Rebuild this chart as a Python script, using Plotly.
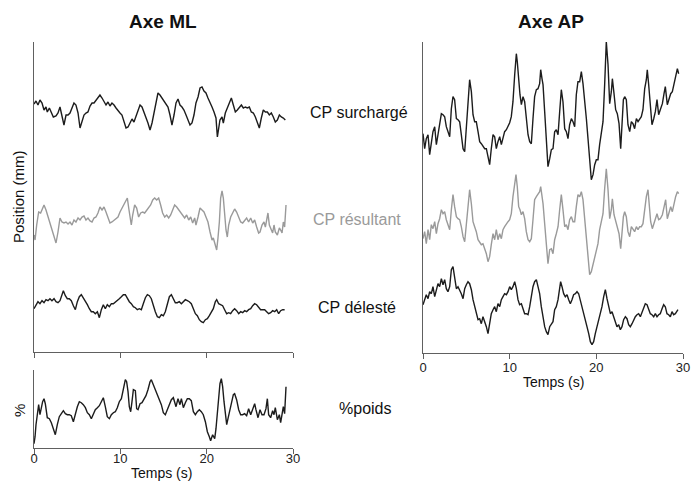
import plotly.graph_objects as go

# ---------------- data (time in s, signal in 0.1 mm / 0.1 % units) ----------------
ML_SURCH_T = [0.00,0.23,0.46,0.69,0.93,1.16,1.39,1.54,1.78,2.01,
    2.24,2.55,2.78,3.01,3.24,3.47,3.71,3.94,4.17,4.40,
    4.63,4.86,5.10,5.33,5.56,5.79,6.02,6.25,6.49,6.72,
    6.95,7.18,7.41,7.64,7.88,8.11,8.34,8.57,8.80,9.03,
    9.27,9.50,9.73,9.96,10.19,10.42,10.66,10.89,11.12,11.35,
    11.58,11.81,12.05,12.28,12.51,12.74,12.97,13.20,13.44,13.67,
    13.90,14.13,14.36,14.59,14.83,15.06,15.29,15.52,15.75,15.98,
    16.22,16.45,16.68,16.91,17.14,17.37,17.61,17.84,18.07,18.30,
    18.53,18.76,19.00,19.23,19.46,19.69,19.92,20.15,20.39,20.62,
    20.85,21.08,21.24,21.39,21.54,21.78,21.93,22.16,22.39,22.63,
    22.86,23.09,23.32,23.55,23.78,24.02,24.25,24.48,24.71,24.94,
    25.17,25.41,25.64,25.87,26.10,26.33,26.56,26.80,27.03,27.26,
    27.49,27.72,27.95,28.19,28.42,28.65,28.88,29.11]
ML_SURCH = [6,9,5,10,7,0,3,-2,2,-3,
    -7,-6,-3,3,-7,-15,-5,-5,-3,2,
    7,5,-3,-18,-10,-5,-3,-2,4,7,
    7,10,12,15,12,9,5,8,4,7,
    5,2,-1,-3,-5,-12,-18,-17,-12,-9,
    -12,-7,0,5,3,-2,-7,-13,-20,-13,
    -3,7,17,15,12,10,7,3,-5,-15,
    -5,7,11,5,3,0,-5,-10,-15,-13,
    -5,7,13,22,23,19,17,12,8,3,
    -2,-8,-27,-20,-10,-7,-13,-3,2,7,
    12,5,-2,0,3,5,2,3,2,3,
    -2,-3,-7,-13,-18,-8,0,-2,-2,-5,
    -3,-7,-12,-10,-5,-7,-8,-10]

ML_RES_T = [0.00,0.12,0.31,0.54,0.77,1.00,1.16,1.39,1.62,1.85,
    2.08,2.32,2.55,2.78,3.01,3.24,3.47,3.71,3.94,4.17,
    4.40,4.63,4.86,5.10,5.33,5.56,5.79,6.02,6.25,6.49,
    6.72,6.95,7.18,7.41,7.64,7.88,8.11,8.34,8.57,8.80,
    9.03,9.27,9.50,9.73,9.96,10.19,10.42,10.66,10.81,10.97,
    11.12,11.27,11.43,11.66,11.89,12.12,12.36,12.59,12.82,13.05,
    13.28,13.51,13.75,13.98,14.21,14.44,14.67,14.90,15.14,15.37,
    15.60,15.83,16.06,16.29,16.53,16.76,16.99,17.22,17.45,17.68,
    17.92,18.15,18.38,18.61,18.76,19.00,19.23,19.46,19.69,19.92,
    20.15,20.39,20.62,20.77,20.93,21.16,21.31,21.47,21.62,21.78,
    21.93,22.08,22.24,22.39,22.55,22.78,23.01,23.24,23.47,23.71,
    23.94,24.17,24.40,24.63,24.86,25.10,25.33,25.56,25.79,26.02,
    26.18,26.41,26.64,26.80,26.95,27.10,27.26,27.41,27.64,27.80,
    27.95,28.19,28.42,28.57,28.73,28.88,29.03,29.19]
ML_RES = [-15,-20,-5,8,7,12,15,10,3,-2,
    -10,-18,-23,-12,2,-2,-3,-2,-4,-2,
    -5,0,-2,2,0,3,4,0,2,-1,
    -2,2,3,7,13,10,13,8,2,-3,
    -2,0,2,3,8,12,15,20,22,12,
    2,-5,5,15,12,3,7,8,7,10,
    12,15,20,22,20,22,15,7,3,5,
    2,5,10,15,13,10,8,5,2,5,
    0,3,-3,2,-5,3,12,10,8,3,
    -2,-12,-20,-18,-23,-30,-18,-2,22,29,
    22,5,-10,-17,-5,3,8,11,8,2,
    -2,-3,0,2,-2,2,-3,0,-7,-13,
    -12,-5,-2,-7,0,7,-5,-8,-13,-5,
    -12,-15,-8,-10,-13,-2,-7,15]

ML_DEL_T = [0.00,0.23,0.46,0.69,0.93,1.16,1.39,1.62,1.85,2.08,
    2.32,2.55,2.78,3.01,3.24,3.40,3.63,3.86,4.09,4.32,
    4.56,4.79,5.02,5.25,5.48,5.71,5.95,6.18,6.41,6.64,
    6.87,7.10,7.34,7.57,7.80,8.03,8.26,8.49,8.73,8.96,
    9.19,9.42,9.65,9.88,10.12,10.35,10.58,10.81,11.04,11.27,
    11.51,11.74,11.97,12.20,12.43,12.66,12.90,13.13,13.36,13.59,
    13.82,14.05,14.29,14.52,14.75,14.98,15.21,15.44,15.68,15.91,
    16.14,16.37,16.60,16.83,17.07,17.30,17.53,17.76,17.99,18.22,
    18.46,18.69,18.92,19.15,19.38,19.61,19.85,20.08,20.31,20.54,
    20.77,21.00,21.16,21.39,21.62,21.85,22.08,22.32,22.55,22.78,
    23.01,23.24,23.47,23.71,23.94,24.17,24.40,24.63,24.86,25.10,
    25.33,25.56,25.79,26.02,26.25,26.49,26.72,26.95,27.18,27.41,
    27.64,27.88,28.11,28.34,28.57,28.80,29.03]
ML_DEL = [-2,2,5,3,6,4,7,6,8,6,
    8,5,4,6,12,16,11,8,8,6,
    1,-3,5,10,12,9,6,2,-2,-5,
    -5,-7,-5,-11,-3,2,-2,2,0,3,
    3,5,7,8,10,12,12,8,5,3,
    0,-1,-3,-2,-3,3,9,12,11,8,
    0,-5,-10,-11,-8,-9,-5,3,10,12,
    8,4,4,5,3,5,7,6,5,3,
    -2,-7,-9,-13,-15,-16,-13,-12,-9,-5,
    -2,5,7,3,2,1,-3,-7,-6,-7,
    -4,-2,-4,-7,-5,-6,-4,-5,-3,-2,
    1,3,2,-1,-3,-3,-3,-5,-7,-6,
    -4,-5,-3,-7,-4,-3,-3]

POIDS_T = [0.00,0.12,0.23,0.39,0.54,0.69,0.85,1.00,1.16,1.31,
    1.54,1.78,2.01,2.24,2.47,2.70,2.93,3.17,3.40,3.63,
    3.86,4.09,4.32,4.56,4.79,5.02,5.25,5.48,5.71,5.95,
    6.18,6.41,6.64,6.87,7.10,7.34,7.57,7.80,8.03,8.26,
    8.49,8.73,8.96,9.19,9.42,9.65,9.88,10.12,10.35,10.58,
    10.73,10.89,11.04,11.20,11.35,11.51,11.74,11.89,12.05,12.28,
    12.51,12.74,12.97,13.20,13.44,13.59,13.82,14.05,14.29,14.52,
    14.75,14.98,15.21,15.44,15.68,15.91,16.14,16.29,16.45,16.68,
    16.91,17.07,17.30,17.53,17.76,17.99,18.22,18.46,18.69,18.92,
    19.15,19.38,19.61,19.85,20.08,20.31,20.46,20.69,20.93,21.08,
    21.24,21.39,21.54,21.70,21.85,22.01,22.16,22.32,22.47,22.63,
    22.86,23.09,23.24,23.47,23.71,23.94,24.17,24.40,24.63,24.86,
    25.10,25.33,25.56,25.71,25.95,26.18,26.41,26.64,26.87,27.03,
    27.18,27.41,27.64,27.80,27.95,28.19,28.42,28.57,28.73,28.88,
    29.03,29.19]
POIDS = [-32,-25,-13,-3,7,-3,5,10,13,8,
    -6,-7,-11,-17,-23,-13,-5,-2,1,-2,
    -3,-3,-4,-10,-2,5,10,9,7,4,
    -1,-3,-7,-2,2,4,6,10,14,5,
    -5,-7,-3,-1,0,4,10,13,23,32,
    30,20,5,0,10,22,21,3,2,8,
    9,13,16,22,30,32,27,22,18,13,
    7,-1,-3,2,7,12,14,9,5,13,
    7,13,4,9,13,13,11,0,-3,0,
    2,0,-3,-10,-20,-25,-29,-23,-27,-17,
    -3,13,28,33,25,10,-3,-13,-7,0,
    10,17,18,12,2,-3,-3,-2,-4,3,
    -3,2,8,2,-6,2,-3,-3,3,13,
    -3,-6,1,-3,4,-8,-3,-11,0,5,
    -2,25]

AP_SURCH_T = [0.00,0.19,0.38,0.58,0.77,0.96,1.15,1.35,1.54,1.73,
    1.92,2.12,2.31,2.50,2.69,2.88,3.08,3.27,3.46,3.65,
    3.85,4.04,4.23,4.42,4.62,4.81,5.00,5.19,5.38,5.58,
    5.77,5.96,6.15,6.35,6.54,6.73,6.92,7.12,7.31,7.50,
    7.69,7.88,8.08,8.27,8.46,8.65,8.85,9.04,9.23,9.42,
    9.62,9.81,10.00,10.19,10.38,10.58,10.77,10.88,11.04,11.19,
    11.35,11.54,11.73,11.92,12.12,12.31,12.50,12.69,12.88,13.08,
    13.27,13.46,13.58,13.73,13.85,14.04,14.23,14.42,14.62,14.81,
    15.00,15.19,15.38,15.58,15.77,15.96,16.15,16.35,16.54,16.73,
    16.92,17.12,17.31,17.50,17.69,17.88,18.08,18.27,18.46,18.65,
    18.85,19.04,19.23,19.42,19.62,19.81,20.00,20.19,20.38,20.58,
    20.77,20.96,21.15,21.35,21.54,21.73,21.85,22.04,22.23,22.42,
    22.62,22.81,22.96,23.12,23.27,23.46,23.65,23.85,24.04,24.23,
    24.42,24.62,24.81,25.00,25.19,25.38,25.58,25.77,25.88,26.04,
    26.23,26.42,26.62,26.81,27.00,27.19,27.38,27.62,27.81,27.96,
    28.19,28.38,28.58,28.77,28.96,29.15,29.35,29.50]
AP_SURCH = [-12,-27,-17,-13,-33,-23,-10,-5,-23,-13,
    -2,8,7,5,-5,-10,-15,13,25,22,
    3,2,0,-13,-27,-30,-7,20,42,30,
    7,0,0,-10,-20,-22,-25,-27,-27,-37,
    -43,-27,-13,-15,-27,-20,-15,-23,-15,-10,
    -8,-5,-1,5,20,47,68,60,40,27,
    17,25,20,3,-13,-20,-22,3,25,32,
    33,38,52,43,37,10,-13,-45,-37,-28,
    -27,-10,-8,-13,10,32,20,-7,-10,-17,
    -3,3,0,-5,27,40,40,50,38,23,
    3,-17,-40,-58,-53,-43,-38,-38,-23,-10,
    0,37,80,57,18,30,43,28,12,8,
    -2,-27,-7,22,25,22,-3,-10,0,-2,
    -7,3,0,3,5,12,33,42,52,37,
    13,-3,3,10,22,7,12,18,28,35,
    17,22,28,30,37,45,53,48]

AP_RES_T = [0.00,0.19,0.38,0.58,0.77,0.96,1.15,1.35,1.54,1.73,
    1.92,2.12,2.31,2.50,2.69,2.88,3.08,3.27,3.46,3.65,
    3.85,4.04,4.23,4.42,4.62,4.81,5.00,5.19,5.38,5.58,
    5.77,5.96,6.15,6.35,6.54,6.73,6.92,7.12,7.31,7.50,
    7.69,7.88,8.08,8.27,8.46,8.65,8.85,9.04,9.23,9.42,
    9.62,9.81,10.00,10.19,10.38,10.58,10.73,10.88,11.04,11.19,
    11.35,11.54,11.73,11.92,12.12,12.31,12.50,12.69,12.88,13.08,
    13.27,13.46,13.58,13.73,13.85,14.04,14.23,14.42,14.62,14.81,
    15.00,15.19,15.38,15.58,15.77,15.96,16.15,16.35,16.54,16.73,
    16.92,17.12,17.31,17.50,17.69,17.88,18.08,18.27,18.46,18.65,
    18.85,19.04,19.23,19.42,19.62,19.81,20.00,20.19,20.38,20.58,
    20.77,20.96,21.15,21.35,21.54,21.73,21.85,22.04,22.23,22.42,
    22.62,22.81,22.96,23.12,23.27,23.46,23.65,23.85,24.04,24.23,
    24.42,24.62,24.81,25.00,25.19,25.38,25.58,25.77,25.96,26.12,
    26.27,26.46,26.65,26.81,27.00,27.19,27.38,27.62,27.81,28.00,
    28.19,28.38,28.58,28.77,28.96,29.15,29.35,29.50]
AP_RES = [-12,-5,-17,-3,-13,2,-2,5,-7,3,
    8,17,13,15,7,2,-3,17,32,20,
    10,8,7,0,-10,-15,0,20,37,23,
    5,0,-5,-13,-15,-18,-17,-22,-27,-35,
    -30,-18,-7,-13,-3,-13,-7,-12,-3,0,
    2,5,7,13,30,43,52,40,20,17,
    12,15,8,-5,-13,-15,-12,7,27,30,
    33,35,40,30,23,3,-17,-37,-23,-22,
    -27,-13,-7,0,17,32,17,0,2,-3,
    7,10,5,5,20,32,30,35,27,7,
    -13,-33,-48,-45,-37,-30,-23,-17,-3,5,
    13,38,58,37,8,17,28,12,5,0,
    -7,-22,-8,10,15,10,-5,-10,0,-3,
    -5,0,-3,0,0,3,20,30,37,23,
    5,-2,3,8,13,7,8,12,20,27,
    8,13,20,15,23,30,35,33]

AP_DEL_T = [0.00,0.19,0.38,0.58,0.77,0.96,1.15,1.35,1.54,1.73,
    1.92,2.12,2.31,2.50,2.69,2.88,3.08,3.27,3.46,3.65,
    3.85,4.04,4.23,4.42,4.62,4.81,5.00,5.19,5.38,5.58,
    5.77,5.96,6.15,6.35,6.54,6.73,6.92,7.12,7.31,7.50,
    7.69,7.88,8.08,8.27,8.46,8.65,8.85,9.04,9.23,9.42,
    9.62,9.81,10.00,10.19,10.38,10.58,10.77,10.96,11.15,11.35,
    11.54,11.73,11.92,12.12,12.31,12.50,12.69,12.88,13.08,13.27,
    13.46,13.65,13.85,14.04,14.23,14.42,14.62,14.81,15.00,15.19,
    15.38,15.58,15.77,15.88,16.04,16.23,16.42,16.62,16.81,17.00,
    17.19,17.38,17.58,17.77,17.96,18.15,18.35,18.54,18.73,18.92,
    19.12,19.31,19.50,19.69,19.88,20.08,20.27,20.46,20.65,20.85,
    21.04,21.23,21.42,21.62,21.81,22.00,22.19,22.38,22.58,22.77,
    22.96,23.15,23.35,23.54,23.73,23.92,24.12,24.31,24.50,24.69,
    24.88,25.08,25.27,25.46,25.65,25.85,26.04,26.23,26.42,26.62,
    26.81,27.00,27.19,27.38,27.58,27.77,27.96,28.15,28.35,28.54,
    28.73,28.92,29.12,29.31,29.42]
AP_DEL = [2,7,12,8,15,13,20,10,18,23,
    20,28,22,27,18,15,20,37,40,27,
    18,20,17,13,8,18,22,25,23,17,
    7,0,-7,-13,-12,-17,-10,-15,-20,-27,
    -18,-7,-3,0,-5,3,0,7,10,13,
    12,15,20,17,20,25,18,7,2,3,
    -2,-7,-7,-8,0,10,20,25,27,20,
    13,0,-13,-20,-25,-28,-20,-18,-15,-3,
    0,7,20,25,20,13,10,12,7,3,
    7,12,13,15,13,7,0,-7,-13,-20,
    -27,-35,-38,-35,-27,-20,-13,-7,0,10,
    17,8,0,-7,-5,-10,-13,-20,-18,-23,
    -20,-13,-10,-12,-18,-20,-17,-13,-10,-8,
    -7,-10,-5,0,3,2,-2,-7,-8,-10,
    -7,-10,-8,-7,-2,2,0,-7,-8,-10,
    -5,-8,-7,-5,-3]

X_TICKS = [0, 10, 20, 30]
TRACE_LABELS = ["CP surchargé", "CP résultant", "CP délesté"]
PANEL_TITLES = ["Axe ML", "Axe AP"]

# ---------------- layout helpers ----------------
W, H = 695, 484
def fx(px): return px / W
def fy(py): return 1 - py / H

BLACK = "#1c1c1c"
GRAY = "#9a9a9a"
AXC = "#606060"
FONT = "Liberation Sans, Arial, sans-serif"

fig = go.Figure()

def add(t, v, offset, color, xa, ya):
    assert len(t) == len(v)
    fig.add_trace(go.Scatter(x=t, y=[offset + a / 10 for a in v], mode="lines",
                             line=dict(color=color, width=1.4),
                             xaxis=xa, yaxis=ya, showlegend=False, hoverinfo="skip"))

# left top panel (ML)
add(ML_SURCH_T, ML_SURCH, 24.2, BLACK, "x", "y")
add(ML_RES_T, ML_RES, 13.2, GRAY, "x", "y")
add(ML_DEL_T, ML_DEL, 4.53, BLACK, "x", "y")
# left bottom panel (%poids)
add(POIDS_T, POIDS, 3.63, BLACK, "x2", "y2")
# right panel (AP)
add(AP_SURCH_T, AP_SURCH, 23.13, BLACK, "x3", "y3")
add(AP_RES_T, AP_RES, 12.63, GRAY, "x3", "y3")
add(AP_DEL_T, AP_DEL, 4.63, BLACK, "x3", "y3")

def xax(dom, anchor, labels, standoff=0):
    return dict(domain=dom, anchor=anchor, range=[0, 30], showline=True, linecolor=AXC,
                linewidth=1, ticks="outside", ticklen=5, tickwidth=1, tickcolor=AXC,
                tickvals=X_TICKS, showticklabels=labels, showgrid=False, zeroline=False,
                automargin=False, ticklabeloverflow="allow", ticklabelstandoff=standoff,
                tickfont=dict(family=FONT, size=13, color="#222"))

def yax(dom, anchor, rng):
    return dict(domain=dom, anchor=anchor, range=rng, showline=True, linecolor=AXC,
                linewidth=1, ticks="", showticklabels=False, showgrid=False, zeroline=False,
                automargin=False)

fig.update_layout(
    width=W, height=H, autosize=False,
    margin=dict(l=0, r=0, t=0, b=0, pad=0, autoexpand=False),
    paper_bgcolor="white", plot_bgcolor="white",
    xaxis=xax([fx(34), fx(293)], "y", False),
    yaxis=yax([fy(352), fy(42)], "x", [0, 31.0]),
    xaxis2=xax([fx(34), fx(293)], "y2", True, -7),
    yaxis2=yax([fy(448), fy(370)], "x2", [0, 7.8]),
    xaxis3=xax([fx(423), fx(683)], "y3", True, -3),
    yaxis3=yax([fy(353), fy(42)], "x3", [0, 31.1]),
)

def ann(text, px, py, size, color="#111", bold=False, angle=0):
    fig.add_annotation(text=f"<b>{text}</b>" if bold else text, x=fx(px), y=fy(py),
                       xref="paper", yref="paper", showarrow=False, textangle=angle,
                       xanchor="center", yanchor="middle",
                       font=dict(family=FONT, size=size, color=color))

ann(PANEL_TITLES[0], 163, 21, 19, bold=True)
ann(PANEL_TITLES[1], 551, 21, 19, bold=True)
ann(TRACE_LABELS[0], 359, 112, 16)
ann(TRACE_LABELS[1], 357, 219, 16, color=GRAY)
ann(TRACE_LABELS[2], 357, 307, 16)
ann("%poids", 365, 408, 16)
ann("Position (mm)", 19, 197, 15, angle=-90)
ann("%", 19, 411, 15, angle=-90)
ann("Temps (s)", 161, 473, 14)
ann("Temps (s)", 553, 382, 14)

fig.write_html("out.html", config={"displayModeBar": False},
               post_script="document.body.style.margin='0';document.body.style.overflow='hidden';")
